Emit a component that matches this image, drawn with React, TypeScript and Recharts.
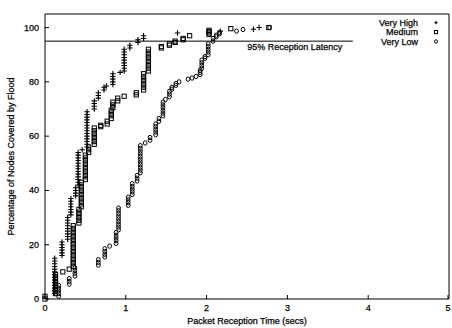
import { ScatterChart, Scatter, XAxis, YAxis, ReferenceLine, Legend } from 'recharts'

// each stack: one reception time and the coverage levels read at that time
type Stack = [number, number[]]

const veryHighStacks: Stack[] = [
  [0.12, [2, 3, 4, 5, 6, 7, 8, 9, 10, 11, 12, 13, 14, 15]],
  [0.21, [16, 17, 18, 19, 20, 21]],
  [0.28, [22, 23, 24, 25, 26, 27, 28, 29, 30]],
  [0.32, [31, 32, 33, 34, 35, 36, 37]],
  [0.38, [38, 39, 40, 41]],
  [0.41, [42, 43, 44, 45, 46, 47, 48, 49, 50, 51, 52, 53, 54]],
  [0.46, [55]],
  [0.52, [56, 57, 58, 59, 60, 61, 62, 63, 64, 65, 66, 67, 68, 69]],
  [0.61, [70, 71, 72, 73]],
  [0.66, [74, 75, 76]],
  [0.73, [77, 78]],
  [0.76, [78.5]],
  [0.84, [79, 80, 81, 82, 83]],
  [0.93, [83.5]],
  [0.98, [84, 85, 86, 87, 88, 89, 90, 91, 92]],
  [1.05, [92.5, 93.5]],
  [1.15, [94.5, 95.5]],
  [1.22, [96, 97]],
  [1.64, [98]],
  [2.17, [98.7]],
  [2.58, [99.4]],
  [2.65, [100]],
]

const mediumStacks: Stack[] = [
  [0.0, [0, 1]],
  [0.13, [2, 3, 4, 5, 6, 7, 8, 9]],
  [0.22, [10]],
  [0.3, [11]],
  [0.35, [12, 13, 14, 15, 16, 17, 18, 19, 20, 21, 22, 23, 24, 25, 26, 27]],
  [0.42, [28, 29, 30, 31, 32, 33]],
  [0.45, [34, 35, 36, 37, 38, 39, 40, 41, 42, 43]],
  [0.5, [44, 45, 46, 47, 48, 49, 50, 51, 52, 53]],
  [0.54, [54, 55, 56]],
  [0.61, [57, 58, 59, 60, 61, 62, 63]],
  [0.69, [63.5, 64]],
  [0.77, [64.5, 65.5]],
  [0.82, [66.5, 67.5, 68.5, 69.5]],
  [0.84, [70.5, 71.5, 72.5]],
  [0.9, [73, 74]],
  [0.98, [74.7]],
  [1.13, [75.2, 76]],
  [1.22, [77, 78, 79, 80, 81, 82, 83]],
  [1.28, [84, 85, 86, 87, 88, 89, 90, 91, 92]],
  [1.44, [92.5, 93]],
  [1.54, [93.5, 94]],
  [1.61, [94.5, 95]],
  [1.71, [95.5, 96]],
  [1.79, [97]],
  [2.03, [97.5, 98, 98.5, 99]],
  [2.3, [99.6]],
  [2.77, [100]],
]

const veryLowStacks: Stack[] = [
  [0.17, [1, 2, 3, 4, 5]],
  [0.3, [5.5, 6.5, 7.5]],
  [0.37, [8.5, 9.5, 10.5, 11.5]],
  [0.66, [12.5, 13.5, 14.5]],
  [0.74, [15.5, 16.5, 17.5, 18.5]],
  [0.8, [19.5]],
  [0.88, [20.5, 21.5, 22.5, 23.5, 24.5]],
  [0.91, [25.5, 26.5, 27.5, 28.5, 29.5, 30.5, 31.5, 32.5, 33.5]],
  [1.03, [34.5, 35.5, 36.5, 37.5]],
  [1.08, [38.5, 39.5, 40.5, 41.5, 42.5]],
  [1.14, [43.5, 44.5, 45.5]],
  [1.18, [46.5, 47.5, 48.5, 49.5, 50.5, 51.5, 52.5, 53.5, 54.5, 55.5, 56.5]],
  [1.24, [57.5]],
  [1.3, [58.5, 59.5]],
  [1.37, [60.5, 61.5, 62.5, 63.5, 64.5]],
  [1.41, [65.5, 66.5]],
  [1.46, [67.5, 68.5, 69.5, 70.5, 71.5, 72.5]],
  [1.49, [73.5]],
  [1.54, [74.5, 75.5, 76.5]],
  [1.57, [77.3, 78]],
  [1.62, [78.7, 79.4]],
  [1.66, [80]],
  [1.77, [81]],
  [1.82, [81.4]],
  [1.87, [82]],
  [1.92, [82.7, 83.5, 84.3]],
  [1.94, [85, 86, 87, 88]],
  [1.98, [88.7, 89.3]],
  [2.02, [90, 91, 92, 93, 94]],
  [2.08, [95, 96]],
  [2.12, [96.6, 97.2]],
  [2.16, [97.7, 98.2]],
  [2.37, [98.7]],
  [2.45, [99.3]],
  [2.78, [100]],
]

const seriesNames = ['Very High', 'Medium', 'Very Low']
const xTicks = [0, 1, 2, 3, 4, 5]
const yTicks = [0, 20, 40, 60, 80, 100]
const latencyLevel = 95
const latencyLineEnd = 3.81
const latencyText = '95% Reception Latency'

const FONT = '"Liberation Sans", Arial, Helvetica, sans-serif'
const INK = '#000'
// gnuplot's postscript text comes out a little heavier than plain regular
const textStyle = { fontSize: 9, fontFamily: FONT, fill: INK, stroke: INK, strokeWidth: 0.25 }

const toPoints = (stacks: Stack[]) => stacks.flatMap(([x, ys]) => ys.map((y) => ({ x, y })))

const PlusMark = ({ cx, cy, r = 2.7 }: any) => (
  <path d={`M${cx - r},${cy}H${cx + r}M${cx},${cy - r}V${cy + r}`} stroke={INK} strokeWidth={1.1} fill="none" />
)
const SquareMark = ({ cx, cy, r = 2.1 }: any) => (
  <rect x={cx - r} y={cy - r} width={r * 2} height={r * 2} stroke={INK} strokeWidth={1} fill="none" />
)
const CircleMark = ({ cx, cy, r = 1.9 }: any) => (
  <ellipse cx={cx} cy={cy} rx={r} ry={r * 1.15} stroke={INK} strokeWidth={1} fill="none" />
)

const BottomTick = ({ x, y, payload }: any) => (
  <g>
    <line x1={x} y1={y} x2={x} y2={y - 4} stroke={INK} />
    <text x={x} y={y + 12} textAnchor="middle" {...textStyle}>
      {payload.value}
    </text>
  </g>
)
const LeftTick = ({ x, y, payload }: any) => (
  <g>
    <line x1={x} y1={y} x2={x + 4} y2={y} stroke={INK} />
    <text x={x - 6} y={y + 3} textAnchor="end" {...textStyle}>
      {payload.value}
    </text>
  </g>
)
const TopTick = ({ x, y }: any) => <line x1={x} y1={y} x2={x} y2={y + 4} stroke={INK} />
const RightTick = ({ x, y }: any) => <line x1={x} y1={y} x2={x - 4} y2={y} stroke={INK} />

const LatencyLabel = ({ viewBox }: any) => (
  <text x={viewBox.x + viewBox.width - 10.5} y={viewBox.y + 8.5} textAnchor="end" {...textStyle}>
    {latencyText}
  </text>
)

const marks = [PlusMark, SquareMark, CircleMark]

const LegendBox = () => (
  <svg width={110} height={36}>
    {seriesNames.map((name, i) => {
      const Mark = marks[i]
      return (
        <g key={name}>
          <text x={78} y={12 + i * 9.3} textAnchor="end" {...textStyle}>
            {name}
          </text>
          <Mark cx={96} cy={8.7 + i * 9.4} r={i === 2 ? 1.5 : 1.6} />
        </g>
      )
    })}
  </svg>
)

export default function App() {
  const series = [veryHighStacks, mediumStacks, veryLowStacks].map(toPoints)

  return (
    <div style={{ position: 'absolute', left: 0, top: 0, background: '#fff' }}>
      <ScatterChart width={452} height={328} margin={{ top: 0, right: 0, bottom: 0, left: 0 }}>
        <XAxis
          type="number"
          dataKey="x"
          domain={[0, 5]}
          ticks={xTicks}
          height={29}
          tickSize={0}
          tickMargin={0}
          tick={BottomTick}
          axisLine={{ stroke: INK }}
          tickLine={false}
          label={({ viewBox }: any) => (
            <text x={viewBox.x + viewBox.width / 2} y={viewBox.y + 24.5} textAnchor="middle" {...textStyle}>
              Packet Reception Time (secs)
            </text>
          )}
        />
        <XAxis
          xAxisId="top"
          orientation="top"
          type="number"
          dataKey="x"
          domain={[0, 5]}
          ticks={xTicks}
          height={14}
          tickSize={0}
          tickMargin={0}
          tick={TopTick}
          axisLine={{ stroke: INK }}
          tickLine={false}
        />
        <YAxis
          type="number"
          dataKey="y"
          domain={[0, 105]}
          ticks={yTicks}
          width={45}
          tickSize={0}
          tickMargin={0}
          tick={LeftTick}
          axisLine={{ stroke: INK }}
          tickLine={false}
          label={({ viewBox }: any) => {
            const cy = viewBox.y + viewBox.height / 2
            return (
              <text x={14} y={cy} transform={`rotate(-90, 14, ${cy})`} textAnchor="middle" {...textStyle}>
                Percentage of Nodes Covered by Flood
              </text>
            )
          }}
        />
        <YAxis
          yAxisId="right"
          orientation="right"
          type="number"
          dataKey="y"
          domain={[0, 105]}
          ticks={yTicks}
          width={3}
          tickSize={0}
          tickMargin={0}
          tick={RightTick}
          axisLine={{ stroke: INK }}
          tickLine={false}
        />
        <ReferenceLine
          segment={[
            { x: 0, y: latencyLevel },
            { x: latencyLineEnd, y: latencyLevel },
          ]}
          stroke={INK}
          strokeWidth={1}
          label={LatencyLabel}
        />
        {series.map((data, i) => {
          const Mark = marks[i]
          return (
            <Scatter
              key={seriesNames[i]}
              name={seriesNames[i]}
              data={data}
              isAnimationActive={false}
              shape={(p: any) => <Mark cx={p.cx} cy={p.cy} />}
            />
          )
        })}
        <Legend
          layout="vertical"
          align="center"
          verticalAlign="middle"
          wrapperStyle={{ position: 'absolute', left: 340, top: 14, width: 110, height: 36 }}
          content={LegendBox}
        />
      </ScatterChart>
    </div>
  )
}
